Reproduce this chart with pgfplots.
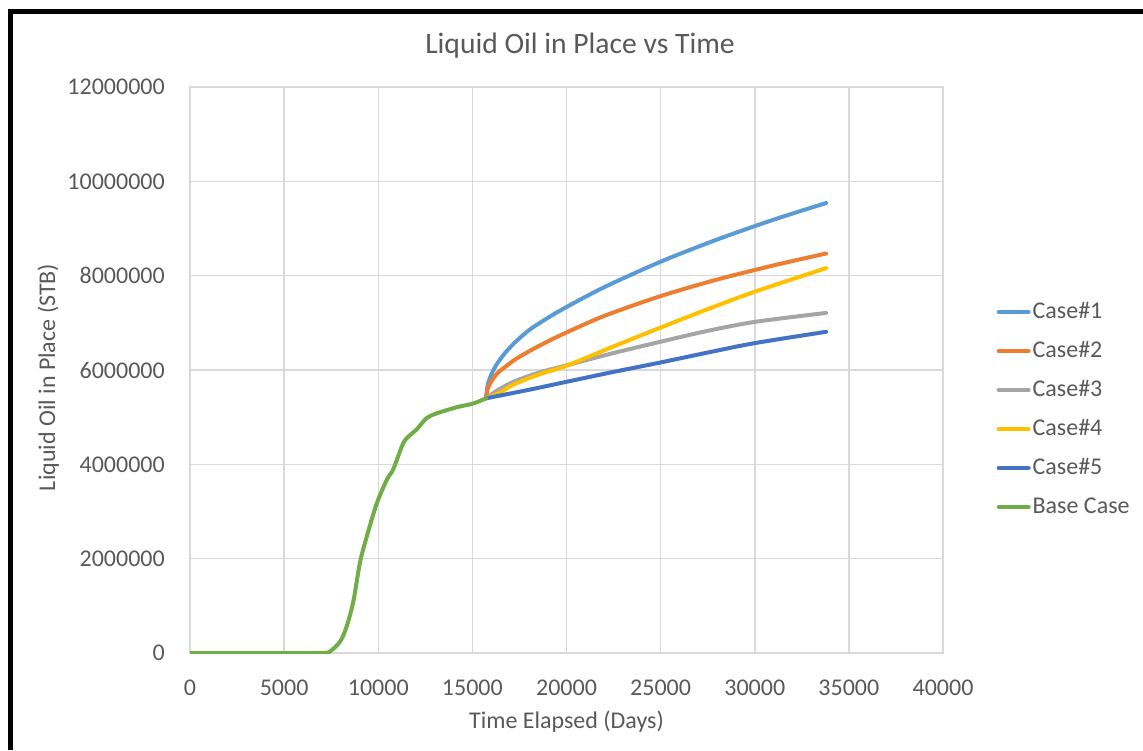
\documentclass[border=0pt]{standalone}
\usepackage{fontspec}
\setmainfont{Carlito}
\usepackage{pgfplots}
\pgfplotsset{compat=1.18}
\definecolor{txt}{HTML}{595959}
\definecolor{gridc}{HTML}{D9D9D9}
\definecolor{cA}{HTML}{5B9BD5}
\definecolor{cB}{HTML}{ED7D31}
\definecolor{cC}{HTML}{A5A5A5}
\definecolor{cD}{HTML}{FFC000}
\definecolor{cE}{HTML}{4472C4}
\definecolor{cF}{HTML}{70AD47}
\begin{document}
\begin{tikzpicture}
\useasboundingbox (0pt,0pt) rectangle (1143pt,-750pt);
\draw[black, line width=4.5pt] (10.3pt,-750pt) -- (10.3pt,-11.7pt) -- (1143pt,-11.7pt);
\begin{axis}[
  at={(190pt,-653pt)}, anchor=south west,
  scale only axis, width=753pt, height=566pt,
  xmin=0, xmax=40000, ymin=0, ymax=12000000,
  xtick={0,5000,10000,15000,20000,25000,30000,35000,40000},
  ytick={0,2000000,4000000,6000000,8000000,10000000,12000000},
  scaled ticks=false,
  /pgf/number format/fixed,
  /pgf/number format/1000 sep={},
  /pgf/number format/assume math mode=true,
  grid=major,
  major grid style={gridc, line width=1.5pt},
  axis line style={gridc, line width=1.5pt},
  major tick length=0pt,
  tick label style={font=\fontsize{24}{28}\selectfont, text=txt},
  xticklabel style={inner sep=0pt, anchor=north, yshift=-27pt},
  yticklabel style={inner sep=0pt, anchor=east, xshift=-25pt},
  title={Liquid Oil in Place vs Time},
  title style={at={(axis description cs:0.518,1.049)}, anchor=base, font=\fontsize{29.6}{34}\selectfont, text=txt, inner sep=0pt},
  xlabel={Time Elapsed (Days)},
  xlabel style={at={(axis description cs:0.5,-0.134)}, anchor=base, font=\fontsize{24}{28}\selectfont, text=txt, inner sep=0pt},
  ylabel={Liquid Oil in Place (STB)},
  ylabel style={at={(axis description cs:-0.179,0.487)}, anchor=base, rotate=0, font=\fontsize{24}{28}\selectfont, text=txt, inner sep=0pt},
  legend style={at={(axis description cs:1.071,0.430)}, anchor=west, draw=none, fill=none, inner sep=0pt,
    row sep=19pt, column sep=2pt,
    nodes={inner sep=0pt, text=txt, font=\fontsize{24}{28}\selectfont, text height=16pt, text depth=4pt}},
  legend cell align=left,
  legend image code/.code={\draw[#1, line width=4pt, line cap=round] (1pt,0pt) -- (31pt,0pt);},
  every axis plot/.append style={line width=4pt, line cap=round, line join=round, smooth, tension=0.5},
]
\addplot[cA] coordinates {
(15724,5400000) (15824,5700000) (16024,5920000) (16324,6140000) (16724,6355000)
(17224,6570000) (18024,6850000) (19024,7110000) (20024,7340000) (22024,7760000)
(25024,8300000) (28024,8770000) (31024,9190000) (33790,9540000)};
\addlegendentry{Case\#1}
\addplot[cB] coordinates {
(15724,5400000) (15824,5610000) (16024,5770000) (16324,5930000) (16724,6060000)
(17224,6210000) (18024,6400000) (19024,6610000) (20024,6800000) (22024,7150000)
(25024,7570000) (28024,7920000) (31024,8220000) (33790,8470000)};
\addlegendentry{Case\#2}
\addplot[cC] coordinates {
(15724,5400000) (16300,5560000) (17180,5750000) (18500,5940000) (20000,6100000)
(22500,6360000) (25000,6600000) (27500,6830000) (30000,7020000) (33790,7210000)};
\addlegendentry{Case\#3}
\addplot[cD] coordinates {
(15724,5400000) (16500,5530000) (17180,5690000) (18500,5900000) (20000,6090000)
(22500,6500000) (25000,6900000) (27500,7290000) (30000,7660000) (33790,8160000)};
\addlegendentry{Case\#4}
\addplot[cE] coordinates {
(15724,5400000) (18000,5580000) (20000,5750000) (22500,5960000) (25000,6160000)
(27500,6370000) (30000,6570000) (33790,6810000)};
\addlegendentry{Case\#5}
\addplot[cF] coordinates {
(0,0) (2500,0) (5000,0) (6800,0) (7300,10000) (7440,30000) (7970,240000)
(8320,560000) (8680,1100000) (9030,1920000) (9390,2470000) (9920,3170000)
(10450,3670000) (10800,3900000) (11330,4450000) (11690,4620000) (12040,4740000)
(12570,4980000) (13100,5080000) (14160,5210000) (15050,5290000) (15724,5400000)};
\addlegendentry{Base Case}
\end{axis}
\end{tikzpicture}
\end{document}
